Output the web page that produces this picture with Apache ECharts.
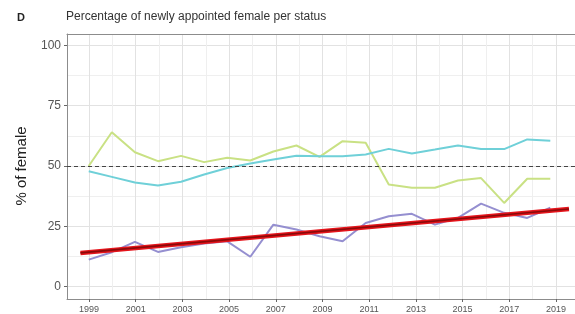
<!DOCTYPE html>
<html>
<head>
<meta charset="utf-8">
<script src="https://cdn.jsdelivr.net/npm/echarts@6/dist/echarts.min.js"></script>
<style>
  html, body { margin: 0; padding: 0; background: #fff; }
  #chart { width: 575px; height: 314px; }
</style>
</head>
<body>
<div id="chart"></div>
<script>
// data
var years = [1999, 2000, 2001, 2002, 2003, 2004, 2005, 2006, 2007, 2008, 2009,
             2010, 2011, 2012, 2013, 2014, 2015, 2016, 2017, 2018, 2019];
var greenValues = [50, 64, 55.7, 52, 54.2, 51.6, 53.4, 52.3, 56, 58.5, 53.8,
                   60.3, 59.6, 42.3, 41, 41, 44, 45, 34.7, 44.7, 44.7];
var cyanValues = [47.8, 45.5, 43.2, 41.9, 43.5, 46.5, 49.2, 51, 52.7, 54.2, 54,
                  54, 54.8, 57.1, 55.2, 56.8, 58.5, 57, 57, 61, 60.5];
var purpleValues = [11.2, 14.3, 18.6, 14.4, 16.3, 17.9, 18.8, 12.4, 25.7, 23.7, 20.9,
                    18.8, 26.4, 29.2, 30.2, 25.7, 28.5, 34.4, 30.6, 28.5, 32.7];
// regression line ends
var trendYears = [1998.64, 2019.81];
var trendValues = [14.0, 32.2];
// reference level
var refValue = 50;
var yTicks = [0, 25, 50, 75, 100];
var xTicks = [1999, 2001, 2003, 2005, 2007, 2009, 2011, 2013, 2015, 2017, 2019];

function pairs(xs, ys) {
  return xs.map(function (x, i) { return [x, ys[i]]; });
}

var font = 'Liberation Sans, Arial, sans-serif';
var borderLine = { show: true, lineStyle: { color: '#8c8c8c', width: 1 } };
var chart = echarts.init(document.getElementById('chart'));

var option = {
  animation: false,
  title: [
    { text: 'D', left: 17, top: 12, padding: 0,
      textStyle: { fontSize: 11, fontWeight: 'bold', color: '#222', fontFamily: font } },
    { text: 'Percentage of newly appointed female per status', left: 66, top: 11, padding: 0,
      textStyle: { fontSize: 12, fontWeight: 'normal', color: '#333', fontFamily: font } }
  ],
  grid: [
    // panel border (left, top, bottom only: right edge is cut off)
    { left: 67, right: -6, top: 34, bottom: 14.5 },
    // y scale + data
    { left: 67, right: -6, top: 45.3, bottom: 27.3 },
    // x scale
    { left: 89, right: 19, top: 34, bottom: 14.5 }
  ],
  xAxis: [
    { gridIndex: 0, type: 'value', min: 0, max: 1, position: 'bottom',
      axisLine: borderLine, axisTick: { show: false }, axisLabel: { show: false }, splitLine: { show: false } },
    { gridIndex: 0, type: 'value', min: 0, max: 1, position: 'top',
      axisLine: borderLine, axisTick: { show: false }, axisLabel: { show: false }, splitLine: { show: false } },
    { gridIndex: 1, type: 'value', min: 1998.058, max: 2020.07, show: false },
    {
      gridIndex: 2, type: 'value',
      min: xTicks[0], max: xTicks[xTicks.length - 1], interval: xTicks[1] - xTicks[0],
      axisLine: { show: false },
      axisTick: { show: true, length: 3, lineStyle: { color: '#666' } },
      axisLabel: { fontSize: 9, color: '#555', margin: 6, fontFamily: font,
                   formatter: function (v) { return String(v); } },
      splitLine: { show: true, lineStyle: { color: '#e2e2e2', width: 1 } },
      minorTick: { show: false, splitNumber: 2 },
      minorSplitLine: { show: true, lineStyle: { color: '#efefef', width: 1 } }
    }
  ],
  yAxis: [
    { gridIndex: 0, type: 'value', min: 0, max: 1, position: 'left',
      axisLine: borderLine, axisTick: { show: false }, axisLabel: { show: false }, splitLine: { show: false } },
    {
      gridIndex: 1, type: 'value',
      min: yTicks[0], max: yTicks[yTicks.length - 1], interval: yTicks[1] - yTicks[0],
      name: '% of female', nameLocation: 'middle', nameGap: 38,
      nameTextStyle: { fontSize: 15, color: '#222', fontFamily: font },
      axisLine: { show: false },
      axisTick: { show: true, length: 3, lineStyle: { color: '#666' } },
      axisLabel: { fontSize: 12, color: '#555', margin: 6, fontFamily: font },
      splitLine: { show: true, lineStyle: { color: '#e2e2e2', width: 1 } },
      minorTick: { show: false, splitNumber: 2 },
      minorSplitLine: { show: true, lineStyle: { color: '#efefef', width: 1 } }
    },
    { gridIndex: 2, type: 'value', min: 0, max: 1, show: false }
  ],
  series: [
    {
      type: 'line', xAxisIndex: 2, yAxisIndex: 1, symbol: 'none',
      data: pairs(years, greenValues),
      lineStyle: { color: '#c9e184', width: 2 },
      markLine: {
        silent: true, symbol: 'none', label: { show: false },
        lineStyle: { type: [4, 3], color: '#444', width: 1.2 },
        data: [{ yAxis: refValue }]
      }
    },
    {
      type: 'line', xAxisIndex: 2, yAxisIndex: 1, symbol: 'none',
      data: pairs(years, cyanValues),
      lineStyle: { color: '#6fd0d8', width: 2 }
    },
    {
      type: 'line', xAxisIndex: 2, yAxisIndex: 1, symbol: 'none',
      data: pairs(years, purpleValues),
      lineStyle: { color: '#958fd0', width: 2 }
    },
    {
      type: 'line', xAxisIndex: 2, yAxisIndex: 1, symbol: 'none',
      data: pairs(trendYears, trendValues),
      lineStyle: { color: '#e5141b', width: 4.5 }
    },
    {
      type: 'line', xAxisIndex: 2, yAxisIndex: 1, symbol: 'none',
      data: pairs(trendYears, trendValues),
      lineStyle: { color: '#8a0a0a', width: 1.6 }
    }
  ]
};

chart.setOption(option);
</script>
</body>
</html>
